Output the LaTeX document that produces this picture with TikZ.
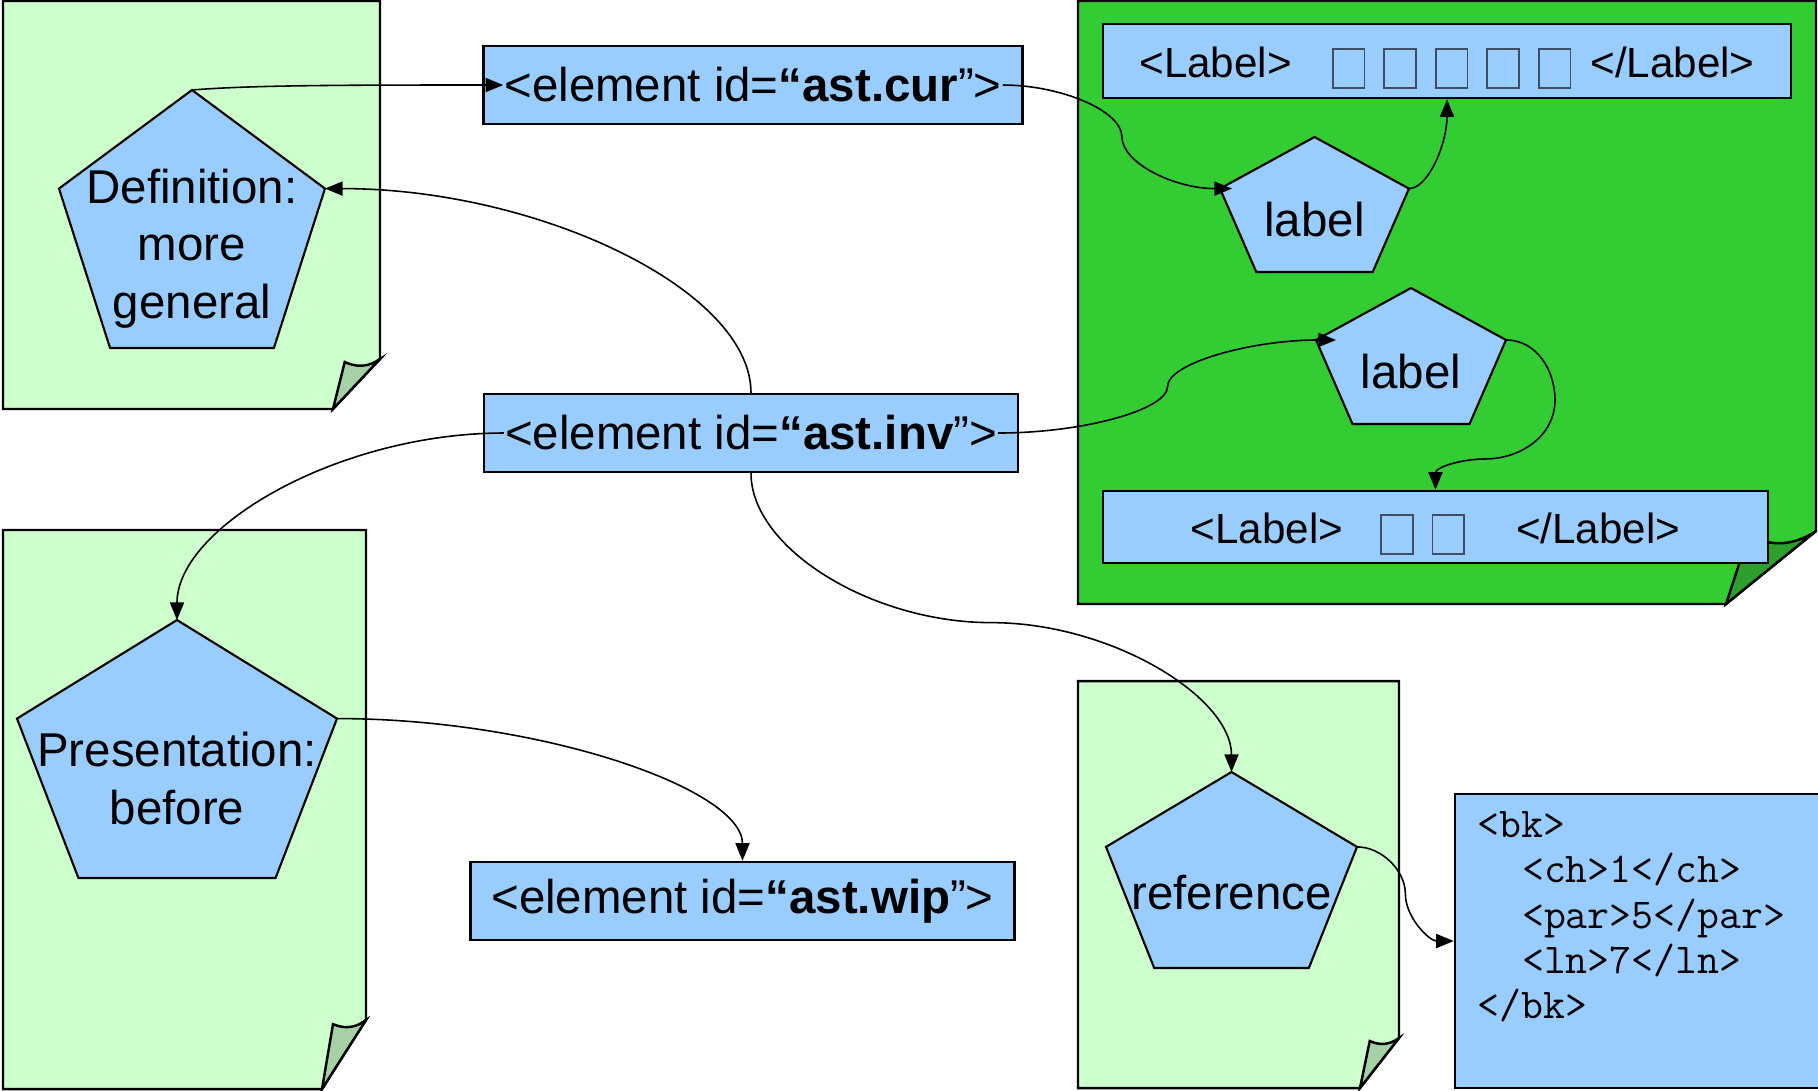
\documentclass[tikz,border=0pt]{standalone}
\usepackage{fontspec}
\setmainfont{Liberation Sans}
\usepackage{xcolor}
\usepackage{tikz}
\usetikzlibrary{calc,arrows.meta}
\definecolor{cellblue}{HTML}{99CCFF}
\definecolor{paper}{HTML}{CCFFCC}
\definecolor{paperfold}{HTML}{A6D1A6}
\definecolor{sheetgreen}{HTML}{33CC33}
\definecolor{sheetfold}{HTML}{2C9F2C}
\definecolor{tofugray}{HTML}{3E4E60}

% placeholder box for a glyph the font could not show
\newcommand{\tofu}{{\setlength{\fboxsep}{0pt}\setlength{\fboxrule}{0.5pt}%
  \fcolorbox{tofugray}{cellblue}{\rule[-0.10cm]{0pt}{0.37cm}\hspace{0.30cm}}}}

\begin{document}
\begin{tikzpicture}[
  elem/.style={rectangle, draw, fill=cellblue, line width=0.7pt, minimum height=0.78cm,
    inner xsep=2.1mm, font=\fontsize{13.5}{16}\selectfont},
  tag/.style={rectangle, draw, fill=cellblue, line width=0.7pt, inner sep=0pt,
    text height=0.43cm, text depth=0.11cm, font=\fontsize{12}{14}\selectfont},
  pentext/.style={align=center, inner sep=0pt, font=\fontsize{13.5}{16.4}\selectfont},
  codebox/.style={rectangle, draw, fill=cellblue, line width=0.7pt},
  codetext/.style={align=left, inner sep=0pt, font=\ttfamily\fontsize{12.1}{12.9}\selectfont},
  conn/.style={-{Triangle[length=5pt,width=4pt]}, line width=0.45pt},
  % sheet with a curled corner: width, height, fold width, fold height, fill, fold fill
  pics/page/.style n args={6}{code={
    \path[draw, line width=0.7pt, fill=#5] (0,0) -- (#1,0) -- (#1,#4-#2) -- (#1-#3,-#2) -- (0,-#2) -- cycle;
    \path[draw, line width=0.7pt, fill=#6] (#1,#4-#2) to[bend left=30] (#1-.75*#3,.94*#4-#2) -- (#1-#3,-#2) -- cycle;
  }},
  % stretched pentagon: width, height, text
  pics/pent/.style n args={3}{code={
    \path[draw, line width=0.6pt, fill=cellblue]
      (0,#2/2) coordinate (-top) -- (#1/2,#2/2-.382*#2) coordinate (-r)
      -- (.308*#1,-#2/2) -- (-.308*#1,-#2/2)
      -- (-#1/2,#2/2-.382*#2) coordinate (-l) -- cycle;
    \node[pentext] (-txt) at (0,-.115*#2) {#3};
  }}
]
  \useasboundingbox (0,0) rectangle (18.18,-10.90);

  % pages
  \pic (defpage) at (0.03,-0.01) {page={3.77}{4.08}{0.47}{0.50}{paper}{paperfold}};
  \pic (prespage) at (0.03,-5.30) {page={3.63}{5.59}{0.44}{0.69}{paper}{paperfold}};
  \pic (refpage) at (10.78,-6.81) {page={3.21}{4.07}{0.39}{0.50}{paper}{paperfold}};
  \pic (sheet) at (10.78,-0.01) {page={7.38}{6.03}{0.90}{0.73}{sheetgreen}{sheetfold}};

  % element ids
  \node[elem, minimum width=5.34cm] (cur) at (7.53,-0.85) {<element id=\textbf{“ast.cur}”>};
  \node[elem, minimum width=5.30cm] (inv) at (7.51,-4.33) {<element id=\textbf{“ast.inv}”>};
  \node[elem, minimum width=5.41cm] (wip) at (7.425,-9.01) {<element id=\textbf{“ast.wip}”>};

  % label strings
  \node[tag, minimum width=6.88cm, minimum height=0.74cm] (tagtop) at (14.47,-0.61)
    {<Label>\hspace{0.40cm}\tofu\hspace{0.18cm}\tofu\hspace{0.18cm}\tofu\hspace{0.18cm}\tofu\hspace{0.18cm}\tofu\hspace{0.19cm}</Label>};
  \node[tag, minimum width=6.65cm, minimum height=0.72cm] (tagbot) at (14.355,-5.27)
    {<Label>\hspace{0.37cm}\tofu\hspace{0.18cm}\tofu\hspace{0.51cm}</Label>};

  % pentagons
  \pic (def) at (1.92,-2.19) {pent={2.66}{2.58}{Definition:\\more\\general}};
  \pic (pres) at (1.77,-7.49) {pent={3.20}{2.58}{Presentation:\\before}};
  \pic (lbla) at (13.145,-2.045) {pent={1.89}{1.35}{label}};
  \pic (lblb) at (14.11,-3.56) {pent={1.90}{1.36}{label}};
  \pic (refp) at (12.315,-8.70) {pent={2.51}{1.96}{reference}};

  % reference record
  \node[codebox, minimum width=3.75cm, minimum height=2.94cm] (code) at (16.425,-9.41) {};
  \node[codetext, anchor=north west] (codetxt) at ([xshift=2.3mm,yshift=-1.8mm]code.north west)
    {<bk>\\\hspace*{1.05em}<ch>1</ch>\\\hspace*{1.05em}<par>5</par>\\\hspace*{1.05em}<ln>7</ln>\\</bk>};

  % connectors
  \draw[conn] (def-top) .. controls +(0.6,0.05) and +(-1.5,0) .. ([xshift=2.1mm]cur.west);
  \draw[conn] ([xshift=-2.1mm]cur.east) .. controls +(0.58,0) and +(0,0.26) .. ($(cur.east)!.5!(lbla-l)$)
    .. controls +(0,-0.26) and +(-0.58,0) .. ([xshift=1.2mm]lbla-l);
  \draw[conn] (lbla-r) .. controls +(0.19,0) and +(0,-0.45) .. (tagtop.south);
  \draw[conn] ([xshift=-2.1mm]inv.east) .. controls +(0.86,0) and +(0,-0.23) .. ($(inv.east)!.5!(lblb-l)$)
    .. controls +(0,0.23) and +(-0.86,0) .. ([xshift=2mm]lblb-l);
  \draw[conn] (lblb-r) to[out=0,in=90] ++(0.49,-0.6) to[out=-90,in=0] ++(-0.7,-0.59)
    to[out=180,in=90] (tagbot.north);
  \draw[conn] (inv.north) .. controls +(0,1.03) and +(2.13,0) .. (def-r);
  \draw[conn] ([xshift=2.1mm]inv.west) .. controls +(-1.65,0) and +(0,0.93) .. (pres-top);
  \draw[conn] (inv.south) .. controls +(0,-0.75) and +(-1.2,0) .. ($(inv.south)!.5!(refp-top)$)
    .. controls +(1.2,0) and +(0,0.75) .. (refp-top);
  \draw[conn] (pres-r) .. controls +(2.03,0) and +(0,0.72) .. (wip.north);
  \draw[conn] (refp-r) .. controls +(0.245,0) and +(0,0.235) .. ($(refp-r)!.5!(code.west)$)
    .. controls +(0,-0.235) and +(-0.245,0) .. (code.west);
\end{tikzpicture}
\end{document}
